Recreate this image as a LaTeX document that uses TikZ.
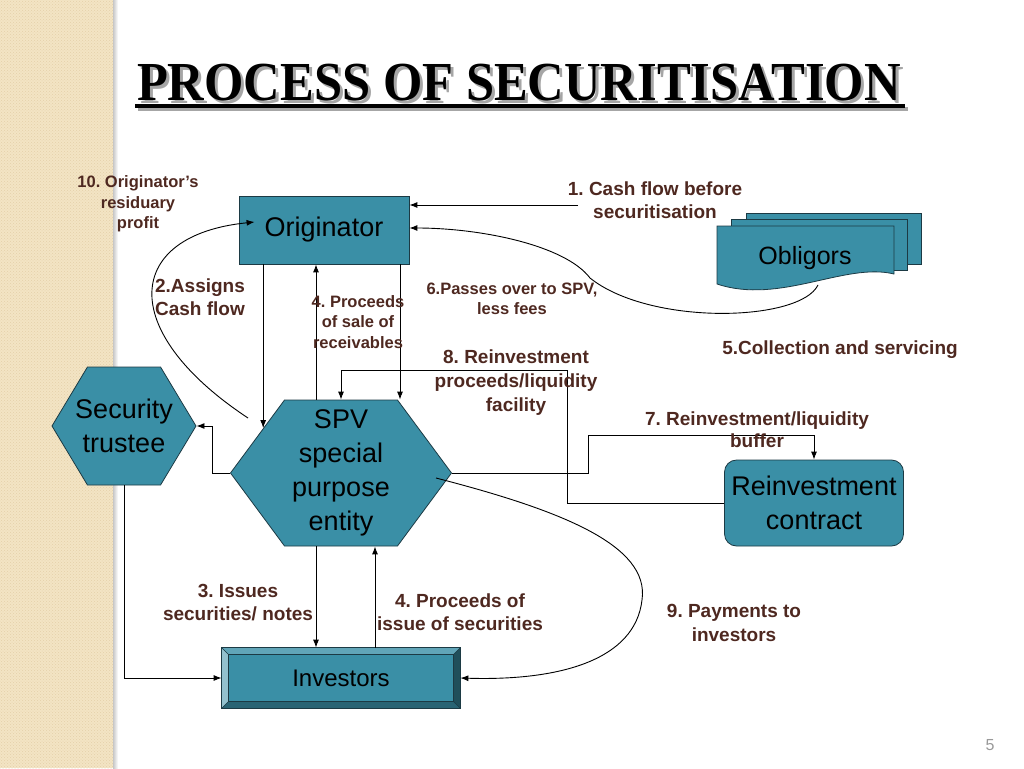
\documentclass[tikz,border=0pt]{standalone}
\usepackage{fontspec}
\setmainfont{Liberation Sans}
\newfontfamily\titlefont{Liberation Serif}
\usetikzlibrary{arrows.meta,shapes.symbols,patterns}
\frenchspacing

\definecolor{tealbox}{RGB}{58,143,166}
\definecolor{boxline}{RGB}{28,58,68}
\definecolor{labbrown}{RGB}{78,40,32}
\definecolor{stripbeige}{RGB}{243,228,196}
\definecolor{stripdot}{RGB}{228,208,168}

\newcommand{\nowide}[1]{\makebox[0pt]{#1}}

\tikzset{
  box/.style={draw=boxline, fill=tealbox, line width=0.8pt, align=center,
    inner sep=0pt, font=\fontsize{27}{34}\selectfont},
  hexbox/.style={box, signal, signal to=east and west},
  lab/.style={text=labbrown, align=center, font=\bfseries\fontsize{19}{23}\selectfont},
  slab/.style={text=labbrown, align=center, font=\bfseries\fontsize{16.5}{20.5}\selectfont},
  flow/.style={line width=0.9pt, -{Latex[length=8pt,width=6pt]}},
  wire/.style={line width=0.9pt}
}

\begin{document}
\begin{tikzpicture}[x=1pt, y=-1pt]
\useasboundingbox (0,0) rectangle (1024,768);

% slide background
\fill[stripbeige] (0,0) rectangle (113,768);
\fill[pattern=crosshatch dots, pattern color=stripdot] (0,0) rectangle (113,768);
\shade[left color=black!22, right color=white] (113,0) rectangle (118,768);

% title
\node[anchor=base, xscale=0.92, text=black!35,
  font=\titlefont\bfseries\fontsize{55}{60}\selectfont] (titleshade) at (522,103) {PROCESS OF SECURITISATION};
\node[anchor=base, xscale=0.92,
  font=\titlefont\bfseries\fontsize{55}{60}\selectfont] (title) at (519,100) {PROCESS OF SECURITISATION};
\fill[black!35] (138,107) rectangle (908,111);
\fill[black] (135,104) rectangle (905,108);

% obligors (stacked documents)
\filldraw[draw=boxline, fill=tealbox, line width=0.8pt] (746,213) rectangle (921,264);
\filldraw[draw=boxline, fill=tealbox, line width=0.8pt] (731,219) rectangle (907,270);
\filldraw[draw=boxline, fill=tealbox, line width=0.8pt] (717,226) -- (894,226) -- (894,274)
  .. controls (845,262) and (780,305) .. (717,284) -- cycle;
\node[font=\fontsize{25}{30}\selectfont] (obl) at (805,258) {Obligors};
\coordinate (oblwave) at (818,285);

% main boxes
\node[box, minimum width=170, minimum height=68] (orig) at (324,230) {Originator};
\node[hexbox, minimum width=221, minimum height=146, signal pointer angle=107] (spv) at (341,473)
  {SPV\\special\\purpose\\entity};
\node[hexbox, minimum width=144, minimum height=118, signal pointer angle=118] (trustee) at (124,426)
  {\nowide{Security}\\\nowide{trustee}};
\node[box, rounded corners=12pt, minimum width=179, minimum height=86] (reinv) at (814,503)
  {Reinvestment\\contract};
\node[box, minimum width=238, minimum height=60, font=\fontsize{24}{28}\selectfont] (inv) at (341,678) {};

% investors bevel
\fill[tealbox!55!white] (inv.north west) -- (inv.south west) -- ([shift={(7,-7)}]inv.south west) -- ([shift={(7,7)}]inv.north west) -- cycle;
\fill[tealbox!80!white] (inv.north west) -- (inv.north east) -- ([shift={(-7,7)}]inv.north east) -- ([shift={(7,7)}]inv.north west) -- cycle;
\fill[tealbox!55!black] (inv.north east) -- (inv.south east) -- ([shift={(-7,-7)}]inv.south east) -- ([shift={(-7,7)}]inv.north east) -- cycle;
\fill[tealbox!70!black] (inv.south west) -- (inv.south east) -- ([shift={(-7,-7)}]inv.south east) -- ([shift={(7,-7)}]inv.south west) -- cycle;
\draw[boxline, line width=0.8pt] (inv.north west) rectangle (inv.south east);
\draw[boxline, line width=0.6pt] ([shift={(7,7)}]inv.north west) rectangle ([shift={(-7,-7)}]inv.south east);
\draw[boxline, line width=0.6pt] (inv.north west) -- ++(7,7) (inv.north east) -- ++(-7,7)
  (inv.south west) -- ++(7,-7) (inv.south east) -- ++(-7,-7);
\node[font=\fontsize{24}{28}\selectfont] (invtext) at (inv) {Investors};

% connectors
\coordinate (c1) at (578,205);
\draw[flow] (c1) -- (orig.east |- c1);
\draw[flow] (oblwave) .. controls (800,322) and (650,326) .. (590,278)
  .. controls (565,245) and (480,228) .. ([yshift=2pt]orig.east);
\draw[flow] (orig.south -| spv.150) -- (spv.150);
\draw[flow] ([xshift=-25pt]spv.north) -- ([xshift=-25pt]spv.north |- orig.south);
\draw[flow] ([xshift=59pt]spv.north |- orig.south) -- ([xshift=59pt]spv.north);
\coordinate (c10) at (248,418);
\draw[flow] (c10) .. controls (115,330) and (125,235) .. ([shift={(16,-8)}]orig.west);
\draw[flow] (reinv.west) -| (567,370) -| (spv.north);
\draw[flow] (spv.east) -| (588,435) -| (reinv.north);
\draw[flow] ([xshift=-16pt,yshift=-5pt]spv.east) .. controls (560,510) and (650,545) .. (642,600)
  .. controls (635,660) and (560,681) .. (inv.east);
\draw[flow] ([xshift=-25pt]spv.south) -- ([xshift=-25pt]spv.south |- inv.north);
\draw[flow] ([xshift=34pt]inv.north) -- ([xshift=34pt]inv.north |- spv.south);
\draw[flow] (trustee.south) |- (inv.west);
\draw[flow] (spv.west) -- ++(-18,0) |- (trustee.east);

% labels
\node[slab] (l10) at (138,204) {10. Originator’s\\residuary\\profit};
\node[lab] (l2) at (200,297) {2.Assigns\\Cash flow};
\node[slab] (l4a) at (358,322) {4. Proceeds\\of sale of\\receivables};
\node[lab] (l1) at (655,200) {1. Cash flow before\\securitisation};
\node[slab] (l6) at (512,299) {6.Passes over to SPV,\\less fees};
\node[lab] (l5) at (840,350) {5.Collection and servicing};
\node[lab, font=\bfseries\fontsize{19}{24}\selectfont] (l8) at (516,383) {8. Reinvestment\\proceeds/liquidity\\facility};
\node[lab, font=\bfseries\fontsize{19}{22}\selectfont] (l7) at (757,430) {7. Reinvestment/liquidity\\buffer};
\node[lab] (l3) at (238,603) {3. Issues\\securities/ notes};
\node[lab] (l4b) at (460,612) {4. Proceeds of\\issue of securities};
\node[lab, font=\bfseries\fontsize{19}{24}\selectfont] (l9) at (734,623) {9. Payments to\\investors};
\node[text=black!40, font=\fontsize{16}{18}\selectfont] (pgnum) at (990,745) {5};
\end{tikzpicture}
\end{document}
